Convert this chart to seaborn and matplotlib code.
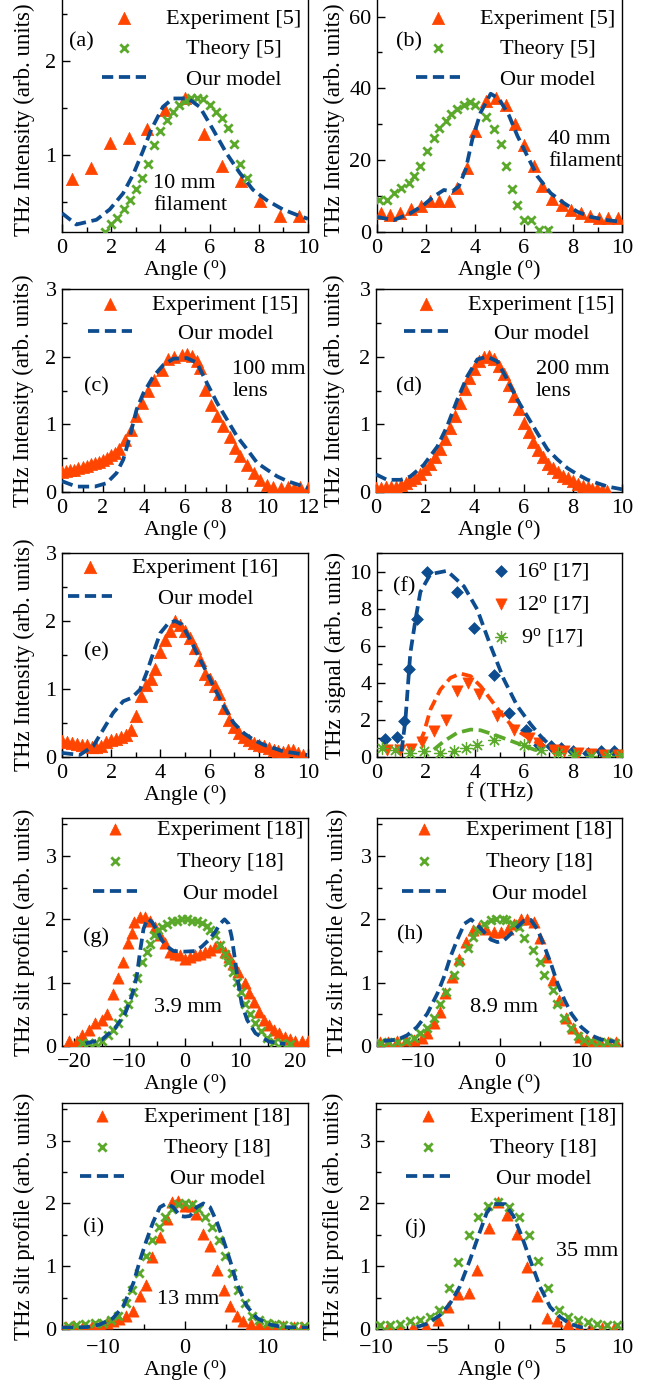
import matplotlib
matplotlib.use('Agg')
import matplotlib.pyplot as plt
import seaborn as sns
from matplotlib.ticker import MultipleLocator, AutoMinorLocator

# ---------------- data ----------------
# (a) 10 mm filament
a_exp_x = [0.42, 1.19, 1.96, 2.72, 3.47, 4.2, 4.99, 5.77, 6.52, 7.29, 8.06, 8.85, 9.62]
a_exp_y = [0.74, 0.86, 1.13, 1.18, 1.28, 1.48, 1.61, 1.22, 0.88, 0.72, 0.51, 0.35, 0.35]
a_th_x = [1.75, 2.0, 2.25, 2.5, 2.75, 3.0, 3.25, 3.5, 3.75, 4.0, 4.25, 4.5,
          4.75, 5.0, 5.25, 5.5, 5.75, 6.0, 6.25, 6.5, 6.75, 7.0, 7.25, 7.5]
a_th_y = [0.18, 0.27, 0.33, 0.42, 0.52, 0.64, 0.75, 0.90, 1.10, 1.25, 1.37, 1.46,
          1.53, 1.57, 1.60, 1.61, 1.59, 1.53, 1.46, 1.39, 1.29, 1.12, 0.90, 0.75]
a_mod_x = [0, 0.58, 1.4, 1.94, 2.48, 2.89, 3.29, 3.63, 4.1, 4.51, 5.12, 5.6, 6.14,
           6.68, 7.22, 7.76, 8.31, 8.98, 9.66, 10]
a_mod_y = [0.38, 0.26, 0.31, 0.42, 0.59, 0.79, 1.04, 1.27, 1.51, 1.6, 1.6, 1.51, 1.27,
           1.02, 0.81, 0.63, 0.52, 0.42, 0.35, 0.32]

# (b) 40 mm filament
b_exp_x = [0.16, 0.55, 0.95, 1.39, 1.8, 2.18, 2.52, 2.93, 3.27, 3.66, 4.02, 4.43, 4.84,
           5.25, 5.62, 6.0, 6.41, 6.75, 7.16, 7.54, 7.91, 8.32, 8.7, 9.07, 9.44, 9.82]
b_exp_y = [5.2, 4.7, 5.2, 6.3, 7.3, 8.5, 8.5, 8.5, 12.2, 17.8, 28.2, 36.6, 37.3,
           35.4, 30.0, 24.1, 18.3, 12.7, 9.1, 7.5, 6.1, 5.2, 4.4, 4.0, 4.0, 3.8]
b_th_x = [0.07, 0.41, 0.68, 0.98, 1.3, 1.53, 1.77, 2.05, 2.32, 2.55, 2.8, 3.04, 3.27,
          3.55, 3.79, 4.02, 4.43, 4.77, 5.05, 5.28, 5.53, 5.73, 6.0, 6.28, 6.62, 6.96]
b_th_y = [8.9, 8.9, 10.8, 12.2, 13.6, 15.5, 18.3, 22.5, 26.3, 29.1, 31.0, 32.9, 34.3,
          35.4, 36.2, 35.4, 31.9, 28.6, 24.4, 18.5, 11.9, 7.5, 3.3, 3.3, 0.5, 0.5]
b_mod_x = [0, 0.68, 1.36, 1.9, 2.32, 2.73, 3.07, 3.34, 3.62, 3.89, 4.23, 4.64, 4.98,
           5.39, 5.73, 6.14, 6.55, 7.09, 7.64, 8.19, 8.73, 9.41, 10]
b_mod_y = [4.2, 3.3, 5.2, 7.5, 9.9, 11.7, 11.3, 12.7, 17.4, 25.8, 33.3, 38.5, 37.1,
           32.4, 26.8, 21.1, 15.5, 10.8, 8.0, 5.6, 4.2, 3.3, 2.8]

# (c) 100 mm lens
c_exp_x = [0, 0.2, 0.4, 0.6, 0.8, 1.0, 1.2, 1.4, 1.6, 1.8, 2.0, 2.2, 2.4, 2.6, 2.8,
           3.07, 3.36, 3.61, 3.89, 4.21, 4.51, 4.87, 5.16, 5.44, 5.84, 6.09, 6.33,
           6.58, 6.74, 6.99, 7.27, 7.56, 7.85, 8.18, 8.46, 8.7, 9.03, 9.36, 9.68,
           10.0, 10.3, 10.7, 11.0, 11.3, 11.6, 12.0]
c_exp_y = [0.30, 0.31, 0.32, 0.33, 0.35, 0.37, 0.39, 0.41, 0.43, 0.45, 0.47, 0.50,
           0.54, 0.58, 0.64, 0.77, 0.92, 1.12, 1.31, 1.49, 1.65, 1.81, 1.96, 2.0,
           2.03, 2.04, 2.01, 1.93, 1.83, 1.51, 1.28, 1.12, 0.97, 0.82, 0.65, 0.53,
           0.40, 0.28, 0.18, 0.11, 0.07, 0.06, 0.07, 0.06, 0.07, 0.06]
c_mod_x = [0, 0.7, 1.6, 2.17, 2.66, 2.99, 3.31, 3.64, 3.97, 4.46, 4.95, 5.44, 6.09,
           6.58, 7.07, 7.56, 8.05, 8.54, 9.03, 9.52, 10.0, 10.5, 11.0, 11.5, 12.0]
c_mod_y = [0.16, 0.08, 0.08, 0.13, 0.28, 0.48, 0.82, 1.22, 1.46, 1.71, 1.88, 1.97, 1.98,
           1.91, 1.61, 1.32, 1.07, 0.82, 0.63, 0.43, 0.33, 0.23, 0.16, 0.11, 0.06]

# (d) 200 mm lens
d_exp_x = [0.0, 0.2, 0.4, 0.6, 0.8, 1.0, 1.2, 1.4, 1.6, 1.8, 2.0, 2.2, 2.4, 2.6, 2.8,
           3.0, 3.2, 3.4, 3.6, 3.8, 4.0, 4.2, 4.4, 4.6, 4.8, 5.0, 5.2, 5.4, 5.6, 5.8,
           6.0, 6.2, 6.4, 6.6, 6.8, 7.0, 7.2, 7.4, 7.6, 7.8, 8.0, 8.2, 8.4, 8.6, 8.8,
           9.0, 9.2, 9.4]
d_exp_y = [0.06, 0.06, 0.07, 0.07, 0.08, 0.10, 0.13, 0.17, 0.21, 0.27, 0.34, 0.42,
           0.52, 0.64, 0.79, 0.95, 1.12, 1.32, 1.52, 1.68, 1.82, 1.94, 2.0, 2.01,
           1.96, 1.86, 1.74, 1.58, 1.42, 1.22, 1.02, 0.88, 0.74, 0.62, 0.52, 0.42,
           0.35, 0.29, 0.24, 0.20, 0.16, 0.12, 0.09, 0.07, 0.05, 0.04, 0.03, 0.02]
d_mod_x = [0, 0.45, 1.0, 1.4, 1.94, 2.49, 2.89, 3.3, 3.71, 4.12, 4.52, 4.93, 5.34,
           5.75, 6.15, 6.56, 6.97, 7.38, 7.79, 8.19, 8.6, 9.0, 9.42, 10]
d_mod_y = [0.26, 0.18, 0.18, 0.23, 0.40, 0.67, 0.97, 1.36, 1.71, 1.96, 2.0, 1.93, 1.66,
           1.36, 1.12, 0.87, 0.63, 0.48, 0.35, 0.26, 0.18, 0.13, 0.08, 0.04]

# (e)
e_exp_x = [0.0, 0.2, 0.4, 0.6, 0.8, 1.0, 1.2, 1.4, 1.6, 1.8, 2.0, 2.2, 2.4, 2.6, 2.8,
           3.0, 3.2, 3.4, 3.6, 3.8, 4.0, 4.2, 4.4, 4.6, 4.8, 5.0, 5.2, 5.4, 5.6, 5.8,
           6.0, 6.2, 6.4, 6.6, 6.8, 7.0, 7.2, 7.4, 7.6, 7.8, 8.0, 8.2, 8.4, 8.6, 8.8,
           9.0, 9.2, 9.4, 9.6, 9.8]
e_exp_y = [0.23, 0.22, 0.21, 0.19, 0.18, 0.17, 0.15, 0.14, 0.16, 0.22, 0.25, 0.27,
           0.29, 0.33, 0.40, 0.60, 0.90, 1.06, 1.15, 1.30, 1.55, 1.72, 1.86, 2.0,
           1.94, 1.86, 1.75, 1.60, 1.42, 1.22, 1.15, 1.05, 0.92, 0.72, 0.55, 0.44,
           0.36, 0.30, 0.25, 0.21, 0.18, 0.16, 0.13, 0.11, 0.09, 0.08, 0.10, 0.11,
           0.06, 0.03]
e_mod_x = [0, 0.72, 1.27, 1.67, 2.08, 2.49, 2.83, 3.17, 3.44, 3.71, 3.99, 4.33, 4.6,
           4.87, 5.21, 5.55, 5.89, 6.23, 6.57, 6.98, 7.39, 7.8, 8.2, 8.61, 9.02, 9.43, 9.97]
e_mod_y = [0.06, 0.03, 0.16, 0.40, 0.65, 0.82, 0.87, 0.99, 1.24, 1.53, 1.82, 1.97, 2.0,
           1.95, 1.73, 1.48, 1.24, 0.99, 0.75, 0.50, 0.35, 0.25, 0.18, 0.13, 0.08, 0.06, 0.03]

# (f) spectra at three angles
f16_x = [0.34, 0.82, 1.09, 1.3, 1.64, 2.05, 3.27, 3.96, 4.77, 5.39, 6.07, 6.62, 7.09,
         7.5, 7.98, 8.6, 9.14, 9.69]
f16_y = [0.99, 1.08, 1.93, 4.72, 7.42, 10.0, 8.9, 6.97, 4.4, 2.38, 1.48, 0.67, 0.58,
         0.49, 0.31, 0.22, 0.31, 0.31]
f16_mod_x = [1.0, 1.16, 1.36, 1.57, 1.77, 2.18, 2.86, 3.55, 4.09, 4.64, 5.18, 5.73,
             6.28, 6.68, 7.09]
f16_mod_y = [0.3, 2.0, 5.6, 7.4, 8.9, 9.86, 10.04, 9.2, 7.96, 5.98, 4.18, 2.74, 1.75,
             1.12, 0.58]
f12_x = [0.41, 0.95, 1.4, 1.84, 2.32, 2.8, 3.27, 3.71, 4.16, 4.91, 5.59, 6.21, 6.62,
         7.23, 7.64, 8.19, 8.73, 9.28, 9.82]
f12_y = [0.4, 0.4, 0.43, 0.79, 1.39, 2.02, 3.55, 4.0, 3.42, 2.2, 1.48, 1.03, 0.76,
         0.4, 0.31, 0.22, 0.16, 0.13, 0.13]
f12_mod_x = [1.75, 1.91, 2.18, 2.59, 3.0, 3.41, 3.82, 4.23, 4.64, 5.05, 5.46, 5.87,
             6.28, 6.68, 7.09, 7.37]
f12_mod_y = [0.8, 1.3, 2.56, 3.64, 4.27, 4.5, 4.36, 3.82, 3.1, 2.38, 1.75, 1.3, 0.94,
             0.67, 0.49, 0.4]
f9_x = [0.2, 0.75, 1.36, 1.91, 2.59, 3.14, 3.62, 4.09, 4.77, 6.0, 6.68, 7.37, 8.05,
        8.73, 9.41, 9.96]
f9_y = [0.49, 0.4, 0.22, 0.31, 0.22, 0.31, 0.49, 0.67, 0.9, 0.67, 0.4, 0.22, 0.13,
        0.07, 0.07, 0.13]
f9_mod_x = [2.32, 2.73, 3.27, 3.82, 4.23, 4.77, 5.32, 5.87, 6.41, 6.82]
f9_mod_y = [0.4, 0.85, 1.3, 1.48, 1.44, 1.21, 0.94, 0.67, 0.4, 0.27]

# (g) 3.9 mm slit
g_exp_x = [-21.0, -19.5, -18.6, -17.4, -16.2, -15.0, -14.1, -12.9, -12.0, -11.25,
           -10.2, -9.6, -9.1, -8.06, -7.15, -6.24, -5.34, -4.43, -3.53, -2.62, -1.72,
           -0.81, 0.09, 1.0, 1.9, 2.81, 3.71, 4.62, 5.52, 6.43, 7.2, 7.95, 8.8, 9.7,
           10.95, 11.7, 12.45, 13.4, 14.3, 15.2, 16.1, 17.0, 18.1, 19.1, 20.0, 21.2, 22.3]
g_exp_y = [0.08, 0.08, 0.17, 0.25, 0.36, 0.41, 0.51, 0.82, 1.07, 1.33, 1.62, 1.79,
           1.96, 2.04, 2.04, 1.98, 1.88, 1.75, 1.62, 1.49, 1.46, 1.43, 1.38, 1.41,
           1.43, 1.45, 1.49, 1.51, 1.57, 1.58, 1.49, 1.41, 1.30, 1.17, 1.0, 0.83,
           0.70, 0.54, 0.41, 0.33, 0.25, 0.20, 0.14, 0.11, 0.08, 0.08, 0.08]
g_th_x = [-18.6, -17.4, -16.2, -15.0, -13.8, -12.9, -12.0, -11.1, -10.2, -9.4, -8.7,
          -7.75, -6.9, -6.2, -5.5, -4.8, -4.1, -3.2, -2.3, -1.4, -0.5, 0.4, 1.3, 2.2,
          3.1, 4.0, 4.6, 5.5, 6.4, 7.2, 7.9, 8.7, 9.4, 10.2, 10.95, 11.85, 12.8, 13.8,
          14.9, 16.1, 17.6, 19.0]
g_th_y = [0.04, 0.04, 0.05, 0.08, 0.17, 0.25, 0.36, 0.53, 0.67, 0.86, 1.07, 1.33,
          1.48, 1.61, 1.75, 1.83, 1.88, 1.93, 1.97, 1.98, 2.0, 2.0, 1.98, 1.97, 1.94,
          1.89, 1.83, 1.75, 1.59, 1.46, 1.33, 1.17, 1.01, 0.86, 0.67, 0.51, 0.36,
          0.23, 0.12, 0.07, 0.04, 0.03]
g_mod_x = [-18, -15, -12.6, -10.8, -9.6, -8.7, -8.05, -7.45, -6.73, -5.94, -5.04, -4.13,
           -3.23, -2.02, 0, 1.9, 3.1, 4.3, 5.5, 6.4, 7.2, 7.95, 8.5, 9.1, 9.7, 10.3,
           11.3, 12.8, 15.2, 18.2]
g_mod_y = [0.04, 0.1, 0.28, 0.51, 0.78, 1.09, 1.51, 1.85, 2.01, 1.96, 1.83, 1.67,
           1.57, 1.5, 1.49, 1.5, 1.57, 1.67, 1.8, 1.93, 2.0, 1.93, 1.72, 1.36, 0.99,
           0.67, 0.41, 0.2, 0.07, 0.03]

# (h) 8.9 mm slit
h_exp_x = [-14.6, -13.6, -12.5, -11.5, -10.5, -9.5, -8.85, -8.0, -7.3, -6.7, -5.8,
           -5.0, -4.1, -3.3, -2.5, -1.7, -0.65, 0.16, 0.98, 1.8, 2.6, 3.4, 4.2, 4.9,
           5.7, 6.5, 7.3, 8.2, 9.0, 9.8, 10.6, 11.4, 12.3, 13.3, 14.3]
h_exp_y = [0.07, 0.07, 0.08, 0.09, 0.10, 0.12, 0.20, 0.36, 0.54, 0.83, 1.09, 1.38,
           1.64, 1.83, 1.88, 1.85, 1.80, 1.80, 1.85, 1.93, 2.01, 2.01, 1.96, 1.70,
           1.41, 1.04, 0.73, 0.44, 0.28, 0.15, 0.10, 0.08, 0.07, 0.06, 0.06]
h_th_x = [-14.6, -13.6, -12.5, -11.5, -10.5, -9.7, -8.85, -8.0, -7.3, -6.5, -5.6, -5.0,
          -3.9, -3.3, -2.7, -1.9, -1.1, -0.45, 0.37, 0.8, 1.6, 2.4, 3.0, 4.06, 4.9,
          5.5, 6.5, 7.1, 7.95, 8.8, 9.6, 10.4, 11.2, 12.2, 13.2, 14.2]
h_th_y = [0.05, 0.06, 0.07, 0.08, 0.12, 0.20, 0.28, 0.44, 0.67, 0.86, 1.12, 1.33,
          1.54, 1.72, 1.83, 1.93, 1.99, 2.01, 2.01, 1.99, 1.93, 1.88, 1.71, 1.52,
          1.33, 1.12, 0.88, 0.67, 0.44, 0.28, 0.16, 0.09, 0.08, 0.07, 0.06, 0.05]
h_mod_x = [-14.2, -12.5, -11.3, -10.1, -8.85, -7.6, -6.8, -6.0, -5.2, -4.3, -3.5, -2.7,
           -1.9, -1.07, -0.25, 0.57, 1.4, 2.2, 3.0, 3.85, 4.7, 5.5, 6.3, 7.1, 7.95,
           8.8, 10.0, 11.2, 12.5, 14.1]
h_mod_y = [0.08, 0.10, 0.17, 0.30, 0.51, 0.83, 1.09, 1.41, 1.67, 1.93, 2.0, 1.91, 1.80,
           1.68, 1.64, 1.67, 1.77, 1.88, 1.98, 1.99, 1.83, 1.57, 1.30, 0.99, 0.73,
           0.51, 0.30, 0.17, 0.10, 0.07]

# (i) 13 mm slit
i_exp_x = [-14.5, -13.5, -12.4, -11.4, -10.4, -9.5, -8.8, -8.0, -7.2, -6.4, -5.5, -4.7,
           -4.0, -3.06, -2.24, -1.6, -0.9, 0.0, 0.8, 1.4, 2.24, 3.1, 3.96, 4.78, 5.5,
           6.3, 7.1, 8.0, 9.0, 10.0, 11.0, 12.0, 13.3, 14.3]
i_exp_y = [0.03, 0.04, 0.05, 0.05, 0.06, 0.09, 0.12, 0.16, 0.20, 0.28, 0.52, 0.70,
           1.15, 1.46, 1.75, 2.02, 2.04, 1.96, 1.96, 1.83, 1.52, 1.33, 0.94, 0.62,
           0.36, 0.20, 0.12, 0.08, 0.06, 0.05, 0.04, 0.04, 0.03, 0.03]
i_th_x = [-14.3, -13.3, -12.2, -11.0, -10.0, -9.0, -8.2, -7.2, -6.45, -5.6, -4.8, -4.0,
          -3.2, -2.4, -1.6, -0.8, 0.0, 0.8, 1.6, 2.45, 3.3, 4.1, 4.9, 5.7, 6.45, 7.3,
          8.2, 9.0, 10.0, 11.0, 12.0, 13.3, 14.5]
i_th_y = [0.04, 0.07, 0.08, 0.09, 0.09, 0.15, 0.21, 0.41, 0.62, 0.89, 1.17, 1.41,
          1.62, 1.78, 1.91, 1.99, 2.0, 1.99, 1.91, 1.78, 1.62, 1.41, 1.17, 0.89,
          0.62, 0.41, 0.21, 0.15, 0.09, 0.08, 0.07, 0.05, 0.04]
i_mod_x = [-15, -12, -10.4, -8.8, -7.55, -6.3, -5.5, -4.7, -3.9, -3.06, -2.24, -1.43,
           -0.6, 0, 0.6, 1.43, 2.24, 3.06, 3.9, 4.7, 5.5, 6.3, 7.55, 8.8, 10.4, 12, 15]
i_mod_y = [0.02, 0.03, 0.07, 0.17, 0.36, 0.73, 1.09, 1.41, 1.70, 1.94, 2.0, 1.94, 1.80,
           1.79, 1.80, 1.94, 2.0, 1.94, 1.70, 1.41, 1.09, 0.73, 0.36, 0.17, 0.07, 0.03, 0.02]

# (j) 35 mm slit
j_exp_x = [-9.0, -8.07, -7.0, -5.9, -4.95, -4.13, -3.3, -2.4, -1.77, -0.82, -0.05,
           0.68, 1.44, 2.31, 3.12, 3.94, 4.7, 5.65, 6.47, 7.42, 8.37, 9.32]
j_exp_y = [0.03, 0.02, 0.03, 0.04, 0.15, 0.35, 0.56, 0.58, 0.94, 1.61, 2.02, 1.82,
           1.52, 0.99, 0.53, 0.17, 0.13, 0.08, 0.03, 0.02, 0.02, 0.02]
j_th_x = [-9.7, -8.9, -8.07, -7.2, -6.44, -5.63, -4.86, -4.05, -3.32, -2.45, -1.68,
          -0.87, -0.05, 0.84, 1.66, 2.45, 3.2, 4.02, 4.84, 5.65, 6.39, 7.2, 7.96, 8.78, 9.6]
j_th_y = [0.07, 0.07, 0.08, 0.12, 0.15, 0.19, 0.31, 0.66, 1.06, 1.49, 1.79, 1.96, 2.02,
          1.95, 1.79, 1.49, 1.08, 0.66, 0.31, 0.19, 0.15, 0.11, 0.08, 0.07, 0.07]
j_mod_x = [-6.7, -5.9, -4.8, -4.0, -3.2, -2.36, -1.68, -1.0, -0.46, 0.49, 1.17, 1.85,
           2.53, 3.34, 4.16, 4.97, 5.79, 6.6, 7.42]
j_mod_y = [0.03, 0.08, 0.22, 0.40, 0.67, 1.10, 1.48, 1.85, 1.99, 1.99, 1.80, 1.48, 1.10,
           0.67, 0.35, 0.19, 0.08, 0.03, 0.01]

# ---------------- style ----------------
RED = '#FF4500'
GREEN = '#5BA92B'
BLUE = '#0D4C8F'
FS = 16

sns.set_style('ticks', {'axes.edgecolor': 'black', 'xtick.color': 'black',
                        'ytick.color': 'black', 'text.color': 'black',
                        'axes.labelcolor': 'black'})
plt.rcParams['font.family'] = ['Liberation Serif', 'DejaVu Serif']
plt.rcParams['mathtext.fontset'] = 'custom'
plt.rcParams['mathtext.rm'] = 'Liberation Serif'
plt.rcParams['mathtext.it'] = 'Liberation Serif:italic'
plt.rcParams['font.size'] = FS

W, H = 648, 1381
fig = plt.figure(figsize=(W / 100, H / 100), dpi=100)
legends = []

ANGLE = r'Angle ($^{\mathrm{o}}$)'
INT = 'THz Intensity (arb. units)'
SLIT = 'THz slit profile (arb. units)'


def make_ax(l, t, r, b):
    # pixel box -> figure fraction
    return fig.add_axes([l / W, 1 - b / H, (r - l) / W, (b - t) / H])


def style(ax, xlim, ylim, xmaj, ymaj, xlabel, ylabel, ylx, yly=0.5, xpad=5):
    ax.set_xlim(*xlim)
    ax.set_ylim(*ylim)
    ax.xaxis.set_major_locator(MultipleLocator(xmaj))
    ax.yaxis.set_major_locator(MultipleLocator(ymaj))
    ax.xaxis.set_minor_locator(AutoMinorLocator(2))
    ax.yaxis.set_minor_locator(AutoMinorLocator(2))
    ax.tick_params(which='both', direction='in', top=False, right=False,
                   labelsize=FS, pad=4, width=1)
    ax.tick_params(axis='x', which='both', pad=xpad)
    ax.tick_params(which='major', length=6)
    ax.tick_params(which='minor', length=3.5)
    for sp in ax.spines.values():
        sp.set_linewidth(1)
    ax.set_xlabel(xlabel, fontsize=FS, labelpad=0)
    ax.set_ylabel(ylabel, fontsize=FS + 0.5)
    ax.yaxis.set_label_coords(ylx, yly)


def exp_pts(ax, x, y, label, s=65):
    sns.scatterplot(x=x, y=y, ax=ax, marker='^', s=s, color=RED, edgecolor=RED,
                    linewidth=0.5, label=label, zorder=3)


def th_pts(ax, x, y, label, s=36):
    sns.scatterplot(x=x, y=y, ax=ax, marker='x', s=s, color=GREEN, linewidth=2,
                    label=label, zorder=3)


def model(ax, x, y, label=None, color=BLUE):
    sns.lineplot(x=x, y=y, ax=ax, color=color, linewidth=2.7, estimator=None,
                 sort=False, linestyle=(0, (3, 1.5)), label=label, zorder=4)


def add_legend(ax, order, x_px, y_px, spacing=0.46, hl=2.0, tp=0.9):
    h, l = ax.get_legend_handles_labels()
    d = dict(zip(l, h))
    leg = ax.legend([d[k] for k in order], order, loc='upper left',
                    bbox_to_anchor=(x_px / W, 1 - y_px / H),
                    bbox_transform=fig.transFigure, frameon=False, borderpad=0,
                    borderaxespad=0, handlelength=hl, handletextpad=tp,
                    labelspacing=spacing, fontsize=FS)
    legends.append(leg)


def note(ax, x, y, s, ha='left'):
    ax.text(x, y, s, fontsize=FS, ha=ha, va='center')


# (a)
ax = make_ax(62, -5, 308, 232)
exp_pts(ax, a_exp_x, a_exp_y, 'Experiment [5]', s=78)
th_pts(ax, a_th_x, a_th_y, 'Theory [5]')
model(ax, a_mod_x, a_mod_y, 'Our model')
style(ax, (0, 10), (0.18, 2.70), 2, 1, ANGLE, INT, -0.11, 0.475)
add_legend(ax, ['Experiment [5]', 'Theory [5]', 'Our model'], 102, 8)
note(ax, 0.77, 2.2, '(a)', ha='center')
note(ax, 3.7, 0.575, '10 mm\nfilament')

# (b)
ax = make_ax(377, -5, 622, 232)
exp_pts(ax, b_exp_x, b_exp_y, 'Experiment [5]', s=78)
th_pts(ax, b_th_x, b_th_y, 'Theory [5]')
model(ax, b_mod_x, b_mod_y, 'Our model')
style(ax, (0, 10), (0, 66), 2, 20, ANGLE, INT, -0.13, 0.475)
add_legend(ax, ['Experiment [5]', 'Theory [5]', 'Our model'], 416, 8)
note(ax, 1.3, 53, '(b)', ha='center')
note(ax, 6.98, 22.6, '40 mm\nfilament')

# (c)
ax = make_ax(62, 289, 308, 492)
exp_pts(ax, c_exp_x, c_exp_y, 'Experiment [15]', s=75)
model(ax, c_mod_x, c_mod_y, 'Our model')
style(ax, (0, 12), (0, 3), 2, 1, ANGLE, INT, -0.114)
add_legend(ax, ['Experiment [15]', 'Our model'], 88, 294, spacing=0.41)
note(ax, 1.7, 1.55, '(c)', ha='center')
note(ax, 8.3, 1.65, '100 mm\nlens')

# (d)
ax = make_ax(376, 289, 622, 492)
exp_pts(ax, d_exp_x, d_exp_y, 'Experiment [15]', s=80)
model(ax, d_mod_x, d_mod_y, 'Our model')
style(ax, (0, 10), (0, 3), 2, 1, ANGLE, INT, -0.126)
add_legend(ax, ['Experiment [15]', 'Our model'], 404, 294, spacing=0.41)
note(ax, 1.34, 1.55, '(d)', ha='center')
note(ax, 6.5, 1.65, '200 mm\nlens')

# (e)
ax = make_ax(62, 553, 308, 757)
exp_pts(ax, e_exp_x, e_exp_y, 'Experiment [16]', s=80)
model(ax, e_mod_x, e_mod_y, 'Our model')
style(ax, (0, 10), (0, 3), 2, 1, ANGLE, INT, -0.11)
add_legend(ax, ['Experiment [16]', 'Our model'], 68, 557, spacing=0.5)
note(ax, 1.4, 1.54, '(e)', ha='center')

# (f)
ax = make_ax(377, 553, 622, 757)
l16 = r'16$^{\mathrm{o}}$ [17]'
l12 = r'12$^{\mathrm{o}}$ [17]'
l9 = r'9$^{\mathrm{o}}$ [17]'
sns.scatterplot(x=f16_x, y=f16_y, ax=ax, marker='D', s=36, color=BLUE,
                edgecolor=BLUE, linewidth=0.5, label=l16, zorder=3)
sns.scatterplot(x=f12_x, y=f12_y, ax=ax, marker='v', s=65, color=RED,
                edgecolor=RED, linewidth=0.5, label=l12, zorder=3)
sns.scatterplot(x=f9_x, y=f9_y, ax=ax, marker=(8, 2, 0), s=75, color=GREEN,
                linewidth=0.9, label=l9, zorder=3)
model(ax, f16_mod_x, f16_mod_y, color=BLUE)
model(ax, f12_mod_x, f12_mod_y, color=RED)
model(ax, f9_mod_x, f9_mod_y, color=GREEN)
style(ax, (0, 10), (0, 11), 2, 2, 'f (THz)', 'THz signal (arb. units)', -0.127)
add_legend(ax, [l16, l12, l9], 490, 560, spacing=0.46, hl=1.0, tp=0.15)
note(ax, 1.1, 9.2, '(f)', ha='center')

# (g)
ax = make_ax(62, 818, 308, 1046)
exp_pts(ax, g_exp_x, g_exp_y, 'Experiment [18]')
th_pts(ax, g_th_x, g_th_y, 'Theory [18]')
model(ax, g_mod_x, g_mod_y, 'Our model')
style(ax, (-22.2, 22.3), (0, 3.6), 10, 1, ANGLE, SLIT, -0.11)
add_legend(ax, ['Experiment [18]', 'Theory [18]', 'Our model'], 93, 819, spacing=0.53)
note(ax, -16.1, 1.72, '(g)', ha='center')
note(ax, 0.5, 0.6, '3.9 mm', ha='center')

# (h)
ax = make_ax(377, 818, 622, 1046)
exp_pts(ax, h_exp_x, h_exp_y, 'Experiment [18]')
th_pts(ax, h_th_x, h_th_y, 'Theory [18]')
model(ax, h_mod_x, h_mod_y, 'Our model')
style(ax, (-15, 15), (0, 3.6), 10, 1, ANGLE, SLIT, -0.118)
add_legend(ax, ['Experiment [18]', 'Theory [18]', 'Our model'], 402, 819, spacing=0.53)
note(ax, -10.9, 1.75, '(h)', ha='center')
note(ax, 0.5, 0.6, '8.9 mm', ha='center')

# (i)
ax = make_ax(62, 1103, 308, 1329)
exp_pts(ax, i_exp_x, i_exp_y, 'Experiment [18]')
th_pts(ax, i_th_x, i_th_y, 'Theory [18]')
model(ax, i_mod_x, i_mod_y, 'Our model')
style(ax, (-15, 15), (0, 3.6), 10, 1, ANGLE, SLIT, -0.11, xpad=7)
add_legend(ax, ['Experiment [18]', 'Theory [18]', 'Our model'], 80, 1106, spacing=0.48)
note(ax, -11.1, 1.61, '(i)', ha='center')
note(ax, 0.4, 0.47, '13 mm', ha='center')

# (j)
ax = make_ax(376, 1103, 622, 1329)
exp_pts(ax, j_exp_x, j_exp_y, 'Experiment [18]')
th_pts(ax, j_th_x, j_th_y, 'Theory [18]')
model(ax, j_mod_x, j_mod_y, 'Our model')
style(ax, (-10, 10), (0, 3.6), 5, 1, ANGLE, SLIT, -0.13, xpad=7)
add_legend(ax, ['Experiment [18]', 'Theory [18]', 'Our model'], 406, 1106, spacing=0.48)
note(ax, -6.8, 1.6, '(j)', ha='center')
note(ax, 7.2, 1.23, '35 mm', ha='center')

# centre the legend texts like the original (Origin style)
fig.canvas.draw()
for leg in legends:
    texts = leg.get_texts()
    ws = [t.get_window_extent().width for t in texts]
    for t, w in zip(texts, ws):
        t.set_x((max(ws) - w) / 2)

fig.savefig('out.png', dpi=100)
